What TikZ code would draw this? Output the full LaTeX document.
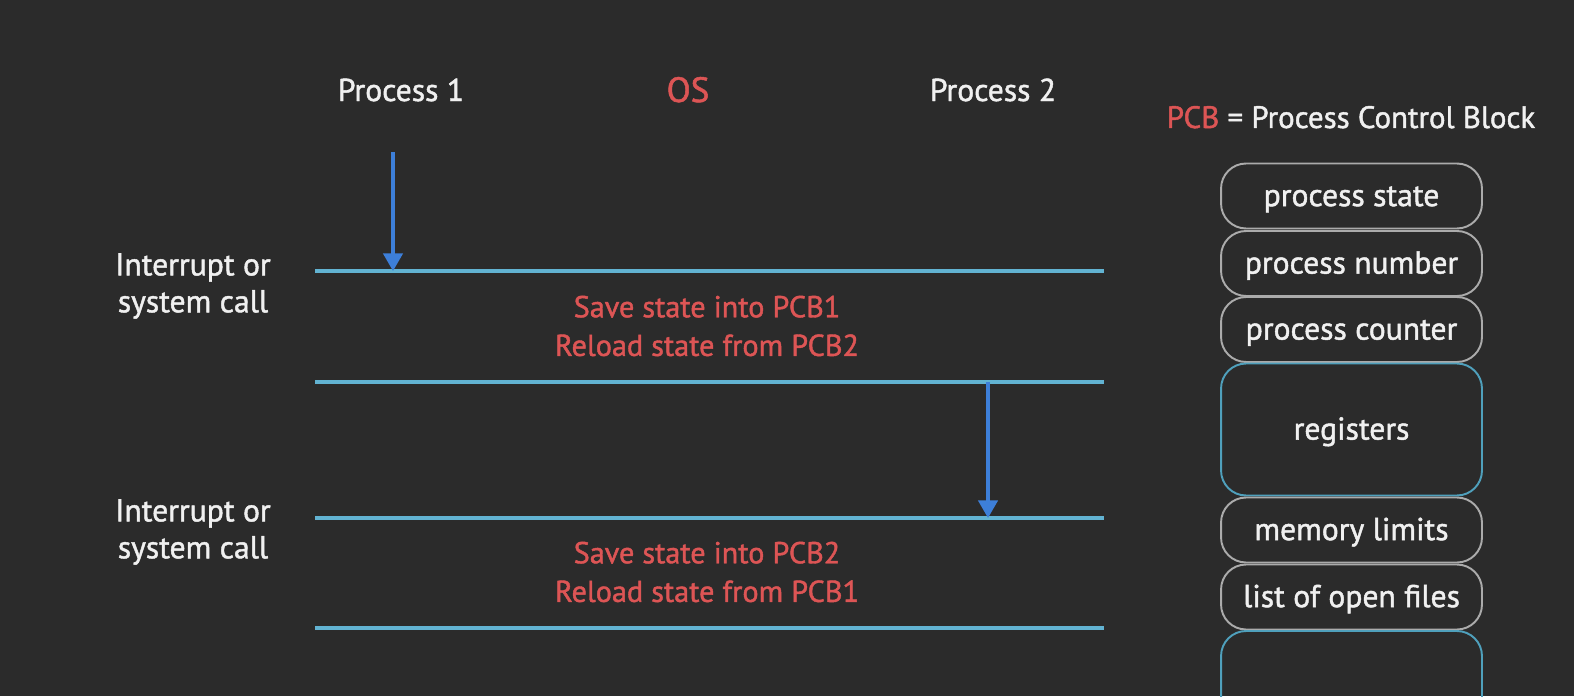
\documentclass[tikz,border=0pt]{standalone}
\usepackage{fontspec}
\setmainfont[FakeBold=1.4,AutoFakeBold=1.4]{PT Sans}
\usetikzlibrary{arrows.meta}
\definecolor{bgcol}{HTML}{2B2B2B}
\definecolor{txtcol}{HTML}{F0F0F0}
\definecolor{oscol}{HTML}{DD5555}
\definecolor{linecol}{HTML}{62B3D2}
\definecolor{arrcol}{HTML}{3D7FD9}
\definecolor{boxgray}{HTML}{ABABAB}
\definecolor{boxcyan}{HTML}{4FA0BC}
\tikzset{
  lbl/.style={text=txtcol, font=\fontsize{18}{21}\selectfont\bfseries, align=center},
  ostxt/.style={text=oscol, font=\fontsize{17.2}{22}\selectfont\bfseries, align=center},
  tline/.style={linecol, line width=2pt},
  parrow/.style={arrcol, line width=1.8pt, -{Triangle[length=10pt,width=11pt]}},
  pcb/.style={draw=boxgray, line width=1.1pt, rounded corners=0.5cm, text=txtcol,
    font=\fontsize{18}{21}\selectfont\bfseries, minimum width=5.22cm, minimum height=1.3cm,
    text height=1.4em, text depth=0.25em, inner sep=0pt},
  pcbwide/.style={pcb, draw=boxcyan, minimum height=2.64cm}
}
\begin{document}
\begin{tikzpicture}[x=0.02cm,y=-0.02cm]
\fill[bgcol] (0,0) rectangle (1574,696);
\clip (0,0) rectangle (1574,696);
% headings
\node[lbl, anchor=base] (proc1) at (401,101) {Process 1};
\node[ostxt, anchor=base, font=\fontsize{20}{24}\selectfont\bfseries] (os) at (688,102) {OS};
\node[lbl, anchor=base] (proc2) at (993,101) {Process 2};
\node[lbl, anchor=base, font=\fontsize{17.6}{21}\selectfont\bfseries] (pcbdef) at (1351,128) {\textcolor{oscol}{PCB} = Process Control Block};
% time lines
\foreach \n/\y in {1/271,2/382,3/518,4/628}{
  \coordinate (l\n w) at (315,\y);
  \coordinate (l\n e) at (1104,\y);
  \draw[tline] (l\n w) -- (l\n e);
}
\coordinate (a1top) at (393,152);
\coordinate (a1end) at (393,271);
\coordinate (a2top) at (988,382);
\coordinate (a2end) at (988,518);
\draw[parrow] (a1top) -- (a1end);
\draw[parrow] (a2top) -- (a2end);
\node[lbl] (irq1) at (193,286) {Interrupt or\\system call};
\node[lbl] (irq2) at (193,532) {Interrupt or\\system call};
\node[ostxt] (save1) at (707,326) {Save state into PCB1\\Reload state from PCB2};
\node[ostxt] (save2) at (707,572) {Save state into PCB2\\Reload state from PCB1};
% PCB
\node[pcb] (pstate) at (1351.5,196) {process state};
\node[pcb] (pnum) at (1351.5,263.5) {process number};
\node[pcb] (pcnt) at (1351.5,329.5) {process counter};
\node[pcbwide] (regs) at (1351.5,429.5) {registers};
\node[pcb] (memlim) at (1351.5,530) {memory limits};
\node[pcb] (files) at (1351.5,597) {list of open files};
\node[pcbwide] (more) at (1351.5,697) {};
\end{tikzpicture}
\end{document}
